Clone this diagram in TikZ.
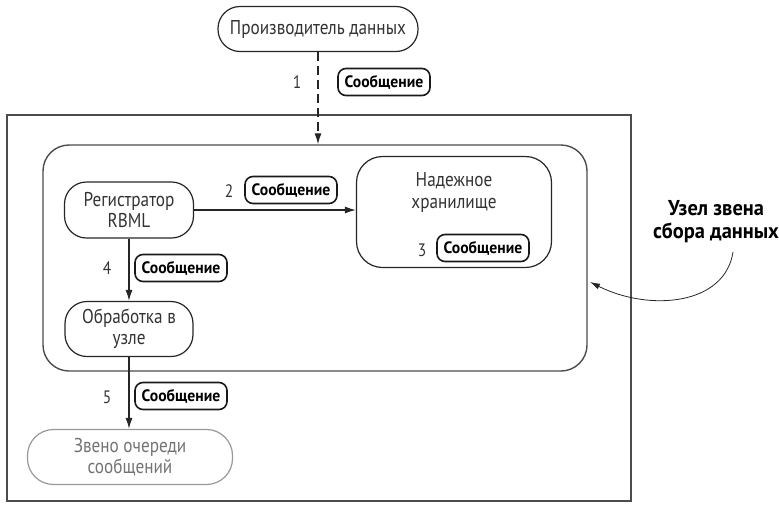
\documentclass[tikz,border=0pt]{standalone}
\usepackage{fontspec}
\setmainfont{PT Sans}
\newfontfamily\lbl[FakeStretch=0.86]{PT Sans}
\newfontfamily\lblb[FakeStretch=0.95]{PT Sans Bold}
\usetikzlibrary{arrows.meta}
\begin{document}
\begin{tikzpicture}[x=1pt,y=-1pt,
  proc/.style={draw=black!85, line width=1.2pt, rounded corners=22pt, align=center,
    font=\lbl\fontsize{20}{21}\selectfont, text=black!80, inner sep=0pt},
  msg/.style={draw=black!90, line width=1.6pt, rounded corners=8pt,
    font=\lblb\fontsize{16.5}{18}\selectfont, minimum height=27pt,
    minimum width=92pt, inner sep=2pt},
  num/.style={font=\lbl\fontsize{18}{19}\selectfont, text=black!80},
  flow/.style={-{Latex[length=11pt,width=7pt]}, line width=1.2pt, draw=black!85},
  frame/.style={draw=black!70, line width=1.4pt}
]
\useasboundingbox (0,0) rectangle (779,504);

% outer boundary and the collector node
\node[frame, minimum width=624pt, minimum height=386pt, inner sep=0pt] (outer) at (319,308) {};
\node[frame, rounded corners=26pt, minimum width=544pt, minimum height=226pt, inner sep=0pt] (group) at (315,258) {};

% producer
\node[proc, minimum width=200pt, minimum height=45pt] (prod) at (318,29) {Производитель данных};
\draw[flow, dashed, dash pattern=on 9pt off 5pt] (prod.south) -- (prod.south |- group.north);
\node[num] (n1) at (297,82) {1};
\node[msg] (m1) at (384,82) {Сообщение};

% logger
\node[proc, minimum width=129pt, minimum height=56pt] (reg) at (129,210) {Регистратор\\RBML};

% reliable storage
\node[proc, rounded corners=26pt, minimum width=195pt, minimum height=111pt] (store) at (454,212) {};
\node[align=center, font=\lbl\fontsize{20}{22}\selectfont, text=black!80] (storetxt) at (454,192) {Надежное\\хранилище};
\node[num] (n3) at (422,250) {3};
\node[msg] (m3) at (483,248) {Сообщение};

\draw[flow] (reg.east) -- (store.west |- reg.east);
\node[num] (n2) at (229,191) {2};
\node[msg] (m2) at (291,190) {Сообщение};

% processing on the node
\node[proc, minimum width=128pt, minimum height=55pt] (work) at (129,329) {Обработка в\\узле};
\draw[flow] (reg.south) -- (work.north);
\node[num] (n4) at (107,268) {4};
\node[msg] (m4) at (181,268) {Сообщение};

% queue tier
\node[proc, draw=black!40, text=black!55, minimum width=205pt, minimum height=55pt, rounded corners=26pt] (queue) at (130,457) {Звено очереди\\сообщений};
\draw[flow] (work.south) -- (work.south |- queue.north);
\node[num] (n5) at (107,397) {5};
\node[msg] (m5) at (181,396) {Сообщение};

% side note
\node[align=center, font=\lblb\fontsize{21.5}{23}\selectfont] (note) at (716,222) {Узел звена\\сбора данных};
\coordinate (tail) at (733,252);
\coordinate (tip) at (590,282);
\draw[-{Latex[length=10pt,width=6pt]}, line width=0.8pt, draw=black!85] (tail) .. controls (725,305) and (650,312) .. (tip);
\end{tikzpicture}
\end{document}
